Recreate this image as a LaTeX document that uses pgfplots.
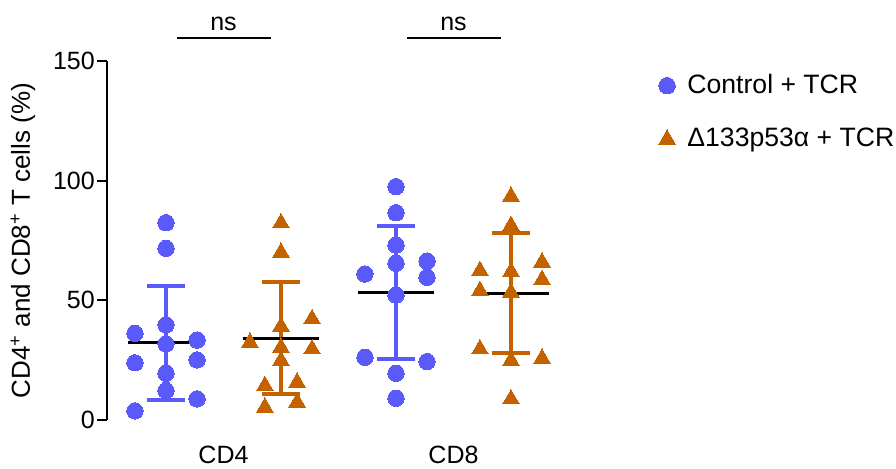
\documentclass[border=0pt]{standalone}
\usepackage{fontspec}
\setmainfont{Liberation Sans}
\usepackage{pgfplots}
\pgfplotsset{compat=1.18}
\definecolor{ctrl}{RGB}{90,90,250}
\definecolor{dlt}{RGB}{196,98,0}
\begin{document}
\fontsize{12.5}{15}\selectfont
\begin{tikzpicture}
\begin{axis}[
  name=ax,
  scale only axis, width=230.5pt, height=179.5pt,
  xmin=0.4913, xmax=4.5, ymin=0, ymax=150,
  axis lines=left, axis line style={-, line width=1pt, black},
  x axis line style={draw=none},
  xtick={1.5,3.5}, xticklabels={CD4,CD8},
  x tick style={draw=none},
  ytick={0,50,100,150},
  y tick style={line width=1pt, black},
  tick align=outside, major tick length=5pt,
  minor tick num=0,
  clip=false,
  tick label style={font=\fontsize{12.5}{15}\selectfont},
  xticklabel style={yshift=-3.8pt},
  yticklabel style={xshift=3pt},
  /pgf/number format/assume math mode=true,
  ylabel={CD4\textsuperscript{+} and CD8\textsuperscript{+} T cells (\%)},
  every axis y label/.style={at={(axis description cs:-0.1833,0.5)}, rotate=90, anchor=center, font=\fontsize{13}{15}\selectfont},
  legend style={draw=none, fill=none, at={(axis description cs:1.195,0.857)}, anchor=west,
    font=\fontsize{13.3}{16}\selectfont, row sep=11.5pt, inner sep=0pt,
    /tikz/every odd column/.append style={column sep=4pt}},
  legend cell align=left,
  legend image code/.code={\draw[#1] plot coordinates {(0pt,0pt)};},
]
% SD bars (vertical)
\addplot[forget plot, draw=none, mark=none,
  error bars/.cd, y dir=both, y explicit, error mark=none,
  error bar style={draw=ctrl, line width=2pt}]
  coordinates {(1,32.3) += (0,23.7) -= (0,23.9) (3,53.4) += (0,27.8) -= (0,28.0)};
\addplot[forget plot, draw=none, mark=none,
  error bars/.cd, y dir=both, y explicit, error mark=none,
  error bar style={draw=dlt, line width=2pt}]
  coordinates {(2,34.2) += (0,23.6) -= (0,23.5) (4,52.7) += (0,25.3) -= (0,24.8)};
% SD caps
\addplot[forget plot, draw=none, mark=none,
  error bars/.cd, x dir=both, x fixed=0.165, error mark=none,
  error bar style={draw=ctrl, line width=2pt}]
  coordinates {(1,56.0) (1,8.4) (3,81.2) (3,25.4)};
\addplot[forget plot, draw=none, mark=none,
  error bars/.cd, x dir=both, x fixed=0.165, error mark=none,
  error bar style={draw=dlt, line width=2pt}]
  coordinates {(2,57.8) (2,10.7) (4,78.0) (4,27.9)};
% individual points
\addplot[only marks, mark=*, mark size=4.1pt, mark options={draw=ctrl, fill=ctrl, line width=0pt}]
  coordinates {
  (1,82.4) (1,71.7) (1,39.7) (1,31.8) (0.73,36.2) (0.73,23.9) (1.27,33.4) (1.27,25.1)
  (1,19.5) (1,12.3) (1.27,8.8) (0.73,3.8)
  (3,97.5) (3,86.6) (3,73.1) (3,65.5) (2.73,61.0) (3.27,66.4) (3.27,59.6) (3,52.2)
  (2.73,26.2) (3.27,24.4) (3,19.5) (3,9.1)};
\addlegendentry{Control + TCR}
\addplot[only marks, mark=triangle*, mark size=4.8pt, mark options={draw=dlt, fill=dlt, line width=0pt}]
  coordinates {
  (2,82.3) (2,70.0) (2.27,42.2) (2,39.1) (1.73,32.4) (2.27,29.6) (2,30.3) (2,24.8)
  (1.86,14.3) (2.14,15.7) (1.86,5.3) (2.14,7.4)
  (4,93.4) (4,81.2) (4.27,65.9) (4.27,58.6) (3.73,62.4) (4,62.0) (3.73,54.0) (4,53.3)
  (3.73,29.6) (4.27,25.7) (4,24.8) (4,8.7)};
\addlegendentry{Δ133p53α + TCR}
% mean lines
\addplot[forget plot, draw=none, mark=none,
  error bars/.cd, x dir=both, x fixed=0.33, error mark=none,
  error bar style={draw=black, line width=1.5pt}]
  coordinates {(1,32.3) (2,34.2) (3,53.4) (4,52.7)};
% significance brackets
\draw[line width=1pt] (axis cs:1.096,159.8) -- (axis cs:1.913,159.8);
\node[inner sep=0pt] at (axis cs:1.5,165.5) {ns};
\draw[line width=1pt] (axis cs:3.096,159.8) -- (axis cs:3.913,159.8);
\node[inner sep=0pt] at (axis cs:3.5,165.5) {ns};
\end{axis}
\pgfresetboundingbox
\path ([xshift=-53.75pt,yshift=-24.5pt]ax.south west) rectangle ([xshift=163.75pt,yshift=30.5pt]ax.north east);
\end{tikzpicture}
\end{document}
